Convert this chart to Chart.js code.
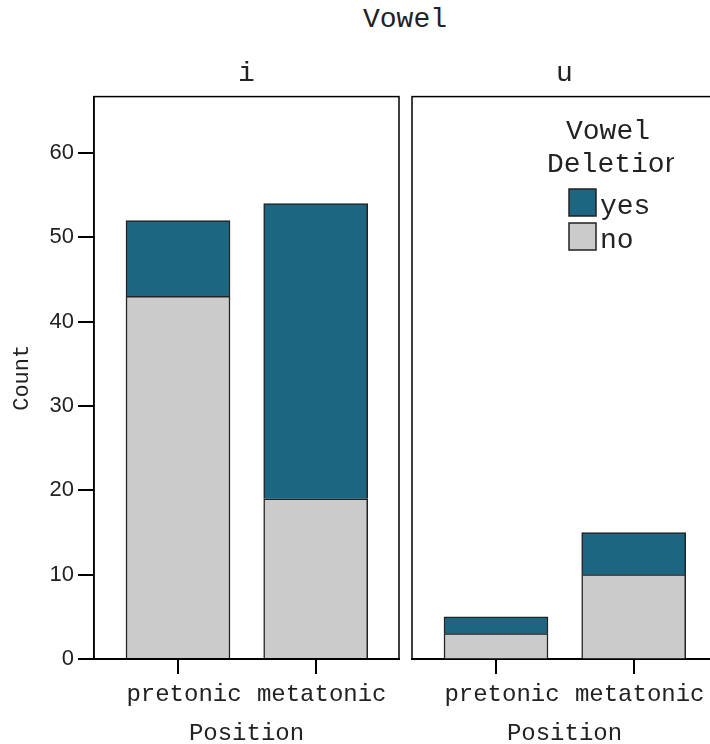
<!DOCTYPE html>
<html>
<head>
<meta charset="utf-8">
<script src="https://cdn.jsdelivr.net/npm/chart.js@4"></script>
<style>
html,body{margin:0;padding:0;background:#fff;overflow:hidden;}
#wrap{position:relative;width:710px;height:744px;overflow:hidden;background:#fff;}
#cA{position:absolute;left:0;top:0;}
#cB{position:absolute;left:405px;top:0;}
#sup{position:absolute;left:305px;top:1px;width:200px;height:38px;line-height:38px;text-align:center;
 font-family:'Liberation Mono',monospace;font-size:28px;color:#222;}
</style>
</head>
<body>
<div id="wrap">
  <div id="sup">Vowel</div>
  <canvas id="cA" width="405" height="744"></canvas>
  <canvas id="cB" width="318" height="744"></canvas>
</div>
<script>
// ---- data ----
const facetTitle = 'Vowel';
const vowels = ['i', 'u'];
const positions = ['pretonic', 'metatonic'];
const seriesNames = ['no', 'yes'];
const noI = [43, 19];
const yesI = [9, 35];
const noU = [3, 10];
const yesU = [2, 5];
const legendTitle = ['Vowel', 'Deletion'];

const MONO = "'Liberation Mono', 'Courier New', monospace";
const SANS = "'Liberation Sans', Arial, sans-serif";
const colors = { no: '#cbcbcb', yes: '#1c6681' };
const ink = '#222';

function makeDatasets(noVals, yesVals) {
  return [
    { label: seriesNames[0], data: positions.map((p, i) => ({ x: i + 1, y: noVals[i] })),
      backgroundColor: colors.no, borderColor: ink, borderWidth: 1.5, barThickness: 104, borderSkipped: 'start' },
    { label: seriesNames[1], data: positions.map((p, i) => ({ x: i + 1, y: yesVals[i] })),
      backgroundColor: colors.yes, borderColor: ink, borderWidth: 1.5, barThickness: 104, borderSkipped: 'start' }
  ];
}

const framePlugin = {
  id: 'frame',
  afterDatasetsDraw(chart) {
    const a = chart.chartArea, ctx = chart.ctx;
    ctx.save();
    ctx.strokeStyle = '#000';
    ctx.lineWidth = 1.5;
    ctx.strokeRect(a.left, a.top, a.right - a.left, a.bottom - a.top);
    ctx.restore();
  }
};

const legendPlugin = {
  id: 'facetLegend',
  afterDraw(chart) {
    const ctx = chart.ctx;
    const px = x => x - 405;
    ctx.save();
    ctx.font = "28px " + MONO;
    ctx.fillStyle = ink;
    ctx.textBaseline = 'middle';
    ctx.textAlign = 'center';
    ctx.fillText(legendTitle[0], px(608), 132);
    ctx.save();
    ctx.beginPath();
    ctx.rect(0, 0, px(674), 744);
    ctx.clip();
    ctx.textAlign = 'left';
    ctx.fillText(legendTitle[1], px(547), 165);
    ctx.restore();
    const items = chart.data.datasets.slice().reverse();
    items.forEach((ds, i) => {
      const y = 189 + i * 34;
      ctx.fillStyle = ds.backgroundColor;
      ctx.fillRect(px(569), y, 27, 27);
      ctx.strokeStyle = ink;
      ctx.lineWidth = 1.5;
      ctx.strokeRect(px(569), y, 27, 27);
      ctx.fillStyle = ink;
      ctx.textAlign = 'left';
      ctx.fillText(ds.label, px(600), y + 18);
    });
    ctx.restore();
  }
};

function makeOptions(title, showY, padLeft) {
  return {
    responsive: false,
    animation: false,
    layout: { padding: { left: padLeft, right: 6, top: 0, bottom: 0 } },
    plugins: {
      legend: { display: false },
      tooltip: { enabled: false },
      title: {
        display: true, text: title, fullSize: false, color: ink,
        font: { family: MONO, size: 28, weight: 'normal', lineHeight: 1.2 },
        padding: { top: 57, bottom: 6 }
      }
    },
    scales: {
      x: {
        type: 'linear', min: 0.39, max: 2.605, stacked: true, offset: false,
        afterBuildTicks: s => { s.ticks = positions.map((p, i) => ({ value: i + 1 })); },
        afterFit: s => { s.height = 85; },
        ticks: {
          callback: v => positions[Math.round(v) - 1] || '',
          autoSkip: false, maxRotation: 0, padding: 6, labelOffset: 6, color: ink,
          font: { family: MONO, size: 24 }
        },
        grid: { offset: false, drawOnChartArea: false, drawTicks: true, tickLength: 15, color: '#000', lineWidth: 2 },
        border: { display: true, color: '#000', width: 2 },
        title: { display: true, text: 'Position', color: ink, padding: 0,
          font: { family: MONO, size: 24, lineHeight: 0.9 } }
      },
      y: {
        display: showY,
        min: 0, max: 66.7, stacked: true,
        afterFit: s => { s.width = showY ? 94 : 0; },
        ticks: { stepSize: 10, includeBounds: false, padding: 4, color: ink,
          font: { family: SANS, size: 22 } },
        grid: { drawOnChartArea: false, drawTicks: true, tickLength: 16, color: '#000', lineWidth: 2 },
        border: { display: true, color: '#000', width: 1.5 },
        title: { display: true, text: 'Count', color: ink, padding: { top: 9, bottom: 0 },
          font: { family: MONO, size: 22 } }
      }
    }
  };
}

new Chart(document.getElementById('cA'), {
  type: 'bar',
  data: { datasets: makeDatasets(noI, yesI) },
  options: makeOptions(vowels[0], true, 0),
  plugins: [framePlugin]
});

new Chart(document.getElementById('cB'), {
  type: 'bar',
  data: { datasets: makeDatasets(noU, yesU) },
  options: makeOptions(vowels[1], false, 7),
  plugins: [framePlugin, legendPlugin]
});
</script>
</body>
</html>
